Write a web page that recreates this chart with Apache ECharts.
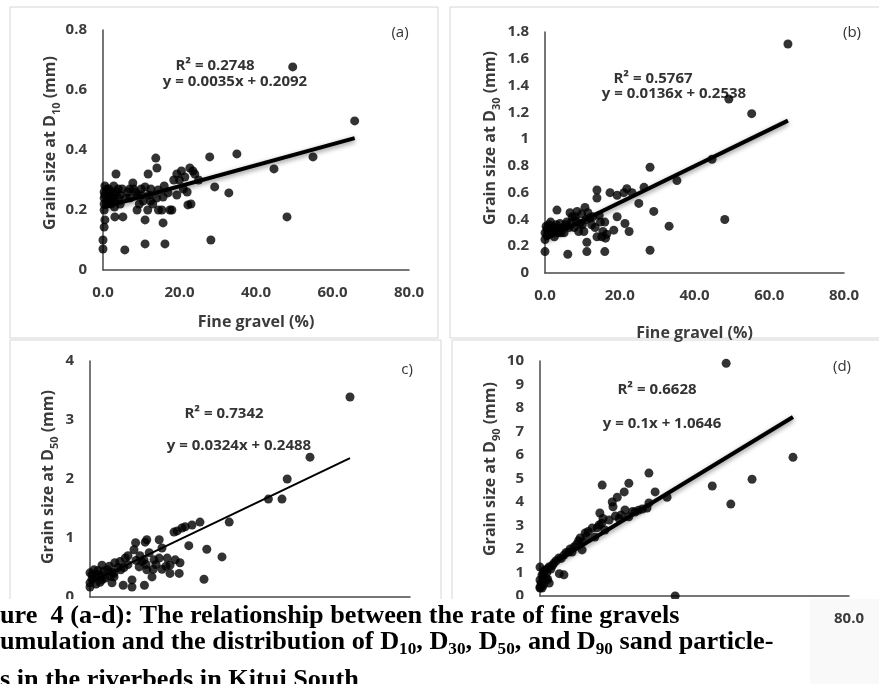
<!DOCTYPE html>
<html>
<head>
<meta charset="utf-8" />
<title></title>
<script src="https://cdn.jsdelivr.net/npm/echarts@6/dist/echarts.min.js" type="text/javascript" charset="utf-8"></script>
<style type="text/css">
	html, body { margin: 0; padding: 0; background: #fff; }
	#chart { width: 879px; height: 684px; }
</style>
</head>
<body>
<div id="chart"></div>
<script type="text/javascript">
// fine gravel (%) vs grain size (mm)
var d10Points = [
	[0,0.07],[0,0.1],[0.3,0.143],[0.3,0.2],[0.3,0.22],[0.3,0.24],[0.3,0.26],[0.5,0.28],[0.5,0.167],[0.5,0.25],
	[1,0.27],[1,0.22],[1.5,0.25],[1.5,0.27],[1.2,0.23],[2,0.26],[2,0.22],[2,0.24],[2.5,0.24],[2.5,0.26],[2.8,0.28],
	[3,0.21],[3,0.23],[3.4,0.32],[3.1,0.177],[3.5,0.26],[4,0.24],[4,0.27],[4.5,0.22],[4.5,0.25],[5.2,0.177],[5,0.27],[5.7,0.067],
	[6,0.24],[6.5,0.26],[7,0.24],[7,0.27],[7.8,0.29],[8,0.27],[8.5,0.26],[8.9,0.2],[9,0.25],[9.5,0.22],[10,0.27],[10,0.25],
	[10.5,0.23],[11,0.277],[11.8,0.32],[11,0.167],[11,0.087],[11.7,0.2],[12.4,0.23],[12.5,0.27],[12,0.25],[13,0.22],
	[13.8,0.373],[14.1,0.34],[14.4,0.267],[14,0.24],[14.5,0.2],[15.4,0.2],[15.7,0.243],[15.7,0.157],[16.2,0.087],
	[16,0.28],[17,0.257],[18,0.2],[17.5,0.2],[18.5,0.3],
	[19.3,0.32],[19.3,0.25],[20,0.3],[20.5,0.33],[21,0.27],[21.4,0.31],[22.2,0.217],[22.7,0.34],[23,0.22],[23.5,0.33],
	[24,0.32],[25,0.3],[22,0.26],
	[27.9,0.377],[29.2,0.277],[32.9,0.257],[28.2,0.1],[35,0.387],[44.7,0.337],[48.1,0.177],[49.6,0.677],[54.9,0.377],[65.8,0.497]
];
var d30Points = [
	[0,0.16],[0,0.25],[0,0.3],[0.3,0.35],[0.5,0.28],[0.5,0.33],[0.8,0.31],[1,0.36],[1.3,0.31],[1.5,0.38],[1.8,0.35],
	[2,0.3],[2.2,0.32],[2.4,0.34],[2.5,0.27],[2.8,0.31],[3,0.36],[3.2,0.47],[3.5,0.3],[3.8,0.33],[4,0.37],[4.3,0.3],
	[4.5,0.33],[5,0.34],[5.1,0.3],[5.5,0.36],[5.8,0.38],[6.1,0.14],[6.4,0.34],[6.7,0.45],[7,0.38],[7.3,0.42],
	[7.8,0.34],[8,0.42],[8.3,0.39],[8.6,0.46],[9.4,0.37],[9,0.31],[9.8,0.44],[10,0.36],[10.4,0.31],[10.7,0.49],[11,0.4],
	[11.2,0.23],[11.2,0.16],[11.5,0.45],[12,0.41],[12.5,0.36],[12.8,0.42],[13.4,0.34],[13.9,0.62],[13.9,0.56],[13.9,0.27],
	[14.5,0.43],[14.8,0.38],[15.2,0.27],[15.5,0.31],[16,0.16],[16,0.38],[16.2,0.26],[16.5,0.29],[17.4,0.6],[18.4,0.32],
	[19.3,0.58],[19.3,0.42],[21.1,0.6],[21.4,0.37],[21.9,0.63],[22.5,0.31],[23.3,0.6],
	[25.1,0.52],[26.5,0.64],[28.1,0.79],[28.1,0.17],[29.1,0.46],[33.2,0.35],[35.3,0.69],[44.7,0.85],[48.1,0.4],
	[49.2,1.3],[55.3,1.19],[65,1.71]
];
var d50Points = [
	[0,0.17],[0,0.24],[0,0.41],[0.5,0.3],[0.5,0.38],[1,0.46],[1.3,0.34],[1.5,0.22],[2,0.38],[2,0.45],[2.5,0.25],
	[2.8,0.36],[3,0.54],[3,0.29],[3.5,0.44],[3.8,0.32],[4.4,0.46],[4.8,0.52],[5,0.35],[5.5,0.24],[5.5,0.42],[6,0.4],
	[6,0.34],[6.2,0.58],[7,0.5],[7.5,0.6],[7.7,0.46],[8.3,0.2],[8.5,0.5],[8.8,0.66],[9.5,0.55],[9.5,0.7],
	[10.5,0.29],[10.5,0.17],[11,0.8],[11.4,0.92],[11.5,0.62],[12.3,0.51],[12.5,0.7],[13,0.6],[13.5,0.63],[13.6,0.2],
	[13.8,0.93],[14,0.55],[14.2,0.46],[14.2,0.97],[14.8,0.75],[15.5,0.34],[15.8,0.47],[16,0.63],[16.5,0.55],[17.3,0.66],
	[17.3,0.97],[18,0.83],[18,0.47],[19,0.52],[19.3,0.66],[20,0.54],[20,0.4],[21,1.1],[21.3,0.63],[21.8,1.12],[22.3,0.4],
	[22.5,0.58],[23,1.17],[23.8,1.19],[24.7,0.87],[25.5,1.22],[27.5,1.27],
	[28.5,0.3],[29.2,0.81],[33,0.68],[34.8,1.27],[44.6,1.66],[48,1.66],[49.3,2.0],[55,2.37],[65,3.39]
];
var d90Points = [
	[0,0.34],[0,0.38],[0,0.68],[0,1.23],[0.3,0.55],[0.5,0.89],[0.5,0.34],[0.8,0.72],[0.9,0.47],[1,0.95],[1.3,1.1],
	[1.6,0.76],[1.8,1.0],[2,0.7],[2.3,1.23],[2.4,0.55],[2.8,1.15],[3.2,1.3],[3.6,1.4],[4.2,1.5],[4.9,1.62],[5,0.95],
	[5.5,1.6],[6.2,1.74],[6.2,0.9],[6.8,1.85],[7.5,1.87],[7.8,2.0],[8.3,1.87],[8.8,2.09],[9.5,2.2],[10,2.35],
	[10.4,2.47],[10.9,2.3],[10.9,1.96],[11.7,2.68],[12,2.55],[12.5,2.75],[13.5,2.89],[14.2,2.51],[14.8,2.9],
	[15.3,3.02],[15.5,3.53],[16,3.1],[16.1,4.72],[16.3,3.3],[16.8,2.81],[17.9,3.23],[18.7,4.0],[18.9,3.8],[19.5,3.4],
	[20,4.2],[20.5,3.3],[21,3.45],[21.8,4.43],[22,3.66],[23,3.37],[23,4.8],[24,3.6],[24.6,3.57],[25.5,3.65],
	[26.5,3.7],[27.7,3.74],[28.2,3.96],[28.2,5.23],
	[29.8,4.43],[32.9,4.2],[35,0],[44.6,4.68],[48.2,9.9],[49.4,3.91],[54.9,4.97],[65.5,5.9]
];

var slopes = [0.0035, 0.0136, 0.0324, 0.1];
var intercepts = [0.2092, 0.2538, 0.2488, 1.0646];
var r2Labels = ['R² = 0.2748', 'R² = 0.5767', 'R² = 0.7342', 'R² = 0.6628'];
var eqLabels = ['y = 0.0035x + 0.2092', 'y = 0.0136x + 0.2538', 'y = 0.0324x + 0.2488', 'y = 0.1x + 1.0646'];
var panelTags = ['(a)', '(b)', 'c)', '(d)'];
var subLabels = ['10', '30', '50', '90'];
var xMin = 0, xMax = 80, xStep = 20;
var yMax = [0.8, 1.8, 4, 10];
var yStep = [0.2, 0.2, 1, 1];
var xTitle = 'Fine gravel (%)';
var captionLines = [
	'ure  4 (a-d): The relationship between the rate of fine gravels',
	'umulation and the distribution of D{s|10}, D{s|30}, D{s|50}, and D{s|90} sand particle-',
	's in the riverbeds in Kitui South'
];

var allPoints = [d10Points, d30Points, d50Points, d90Points];

var FONT = 'Open Sans';
var labelColor = '#3b3b3b';
var axisColor = '#4a4a4a';

// layout of each panel
var grids = [
	{left: 103, top: 30, width: 306, height: 240},
	{left: 545, top: 32, width: 299, height: 241},
	{left: 90, top: 361, width: 320, height: 236},
	{left: 540, top: 361, width: 309, height: 235}
];
var frames = [[10, 7, 428, 331], [450, 7, 440, 331], [10, 340, 431, 350], [452, 340, 440, 350]];
var tagPos = [[400, 33], [852, 33], [407, 370], [842, 367]];
var r2Pos = [[215, 66], [653, 79], [224, 414], [657, 390]];
var eqPos = [[235, 82], [674, 94], [239, 446], [662, 424]];
var yNamePos = [[50, 143], [490, 138], [48, 477], [490, 469]];

function general(v){
	return String(+v.toFixed(1));
}

var xAxes = [], yAxes = [], series = [], graphics = [];

for (var i = 0; i < 4; i++){
	var lblFmt = function(v){ return v.toFixed(1); };
	var showLbl = true;
	if (i == 2) showLbl = false;
	if (i == 3) lblFmt = function(v){ return v == xMax ? v.toFixed(1) : ''; };
	xAxes.push({
		gridIndex: i, type: 'value', min: xMin, max: xMax, interval: xStep,
		name: i < 2 ? xTitle : '', nameLocation: 'middle', nameGap: i == 0 ? 44 : 52,
		nameTextStyle: {fontFamily: FONT, fontSize: 16, fontWeight: 'bold', color: labelColor},
		axisLine: {lineStyle: {color: axisColor, width: 1.5}},
		axisTick: {show: false},
		splitLine: {show: false},
		axisLabel: {show: showLbl, margin: 15, formatter: lblFmt, fontFamily: FONT, fontSize: 15, fontWeight: 'bold', color: labelColor}
	});
	yAxes.push({
		gridIndex: i, type: 'value', min: 0, max: yMax[i], interval: yStep[i],
		axisLine: {show: true, lineStyle: {color: axisColor, width: 1.5}},
		axisTick: {show: false},
		splitLine: {show: false},
		axisLabel: {margin: 16, formatter: general, fontFamily: FONT, fontSize: 15, fontWeight: 'bold', color: labelColor}
	});

	var pts = allPoints[i];
	var lo = Infinity, hi = -Infinity;
	for (var k = 0; k < pts.length; k++){
		lo = Math.min(lo, pts[k][0]);
		hi = Math.max(hi, pts[k][0]);
	}
	series.push({
		type: 'scatter', xAxisIndex: i, yAxisIndex: i, data: pts,
		symbolSize: 9, clip: false,
		itemStyle: {color: '#000'}
	});
	series.push({
		type: 'line', xAxisIndex: i, yAxisIndex: i, z: 3,
		data: [[lo, slopes[i] * lo + intercepts[i]], [hi, slopes[i] * hi + intercepts[i]]],
		symbol: 'none', silent: true,
		lineStyle: i == 2 ? {color: '#000', width: 2} :
			{color: '#000', width: 4, shadowBlur: 5, shadowColor: 'rgba(0,0,0,0.45)', shadowOffsetY: 2}
	});

	graphics.push({
		type: 'rect', z: -10, silent: true,
		shape: {x: frames[i][0], y: frames[i][1], width: frames[i][2], height: frames[i][3]},
		style: {fill: '#fff', stroke: '#d6d6d6', lineWidth: 1}
	});
	graphics.push({
		type: 'text', x: tagPos[i][0], y: tagPos[i][1],
		style: {text: panelTags[i], font: '15px "Open Sans"', fill: '#333', align: 'center', verticalAlign: 'middle'}
	});
	graphics.push({
		type: 'text', x: r2Pos[i][0], y: r2Pos[i][1],
		style: {text: r2Labels[i], font: 'bold 15px "Open Sans"', fill: '#333', align: 'center', verticalAlign: 'middle'}
	});
	graphics.push({
		type: 'text', x: eqPos[i][0], y: eqPos[i][1],
		style: {text: eqLabels[i], font: 'bold 15px "Open Sans"', fill: '#333', align: 'center', verticalAlign: 'middle'}
	});
	graphics.push({
		type: 'text', x: yNamePos[i][0], y: yNamePos[i][1], rotation: Math.PI / 2,
		style: {
			text: 'Grain size at D{s|' + subLabels[i] + '} (mm)',
			font: 'bold 16px "Open Sans"', fill: labelColor, align: 'center', verticalAlign: 'middle',
			lineHeight: 24,
			rich: {s: {fontFamily: FONT, fontSize: 11, fontWeight: 'bold', fill: labelColor, verticalAlign: 'bottom', lineHeight: 24}}
		}
	});
}

// caption block pasted over the lower panels
graphics.push({
	type: 'rect', z: -5, silent: true,
	shape: {x: 810, y: 599, width: 69, height: 85},
	style: {fill: '#f9f9f9'}
});
graphics.push({
	type: 'rect', z: 50, silent: true,
	shape: {x: 0, y: 599, width: 810, height: 85},
	style: {fill: '#fff'}
});
var capY = [616, 642, 680];
for (var j = 0; j < captionLines.length; j++){
	graphics.push({
		type: 'text', z: 51, x: 0, y: capY[j], scaleX: 1.01,
		style: {
			text: captionLines[j], font: 'bold 26px "Liberation Serif"', fill: '#000',
			align: 'left', verticalAlign: 'middle', lineHeight: 32,
			rich: {s: {fontFamily: 'Liberation Serif', fontSize: 17, fontWeight: 'bold', fill: '#000', verticalAlign: 'bottom', lineHeight: 32}}
		}
	});
}

var chart = echarts.init(document.getElementById('chart'));
chart.setOption({
	animation: false,
	backgroundColor: '#fff',
	grid: grids,
	xAxis: xAxes,
	yAxis: yAxes,
	series: series,
	graphic: graphics
});
</script>
</body>
</html>
